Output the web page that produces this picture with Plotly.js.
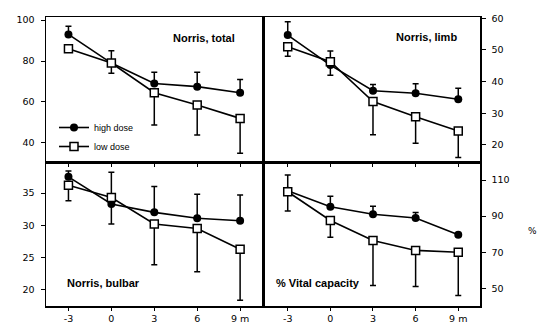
<!DOCTYPE html>
<html><head><meta charset="utf-8">
<script src="https://cdn.plot.ly/plotly-3.0.1.min.js"></script>
<style>html,body{margin:0;padding:0;background:#fff}#c{width:537px;height:331px}</style>
</head><body><div id="c"></div>
<script>
// months
const months = [-3, 0, 3, 6, 9];
const tickText = ['-3', '0', '3', '6', '9 m'];
const seriesNames = ['high dose', 'low dose'];

// Norris, total
const totalHigh = [93, 79, 69, 67.5, 64.5];
const totalHighErr = [4, 6, 5.5, 7, 6.5];
const totalLow = [86, 79, 64.5, 58.5, 52];
const totalLowErr = [0, 5, 15.7, 14.6, 17];

// Norris, limb
const limbHigh = [54.7, 45.2, 37.1, 36.3, 34.4];
const limbHighErr = [4.2, 4.5, 2, 3, 3.5];
const limbLow = [51, 46.3, 33.7, 28.9, 24.4];
const limbLowErr = [3, 4.3, 10.5, 8.4, 8.4];

// Norris, bulbar
const bulbarHigh = [37.5, 33.3, 32.0, 31.1, 30.7];
const bulbarHighErr = [0.9, 4.9, 4.0, 3.7, 4.0];
const bulbarLow = [36.2, 34.3, 30.2, 29.5, 26.3];
const bulbarLowErr = [2.4, 4.1, 6.3, 6.7, 7.9];

// % Vital capacity
const vcHigh = [104, 95.2, 91, 89, 79.7];
const vcHighErr = [8.8, 5.8, 4.5, 3, 0];
const vcLow = [103.5, 87.6, 76.5, 71, 70];
const vcLowErr = [10.7, 9.3, 24.9, 20, 24];

const panelTitles = ['Norris, total', 'Norris, limb', 'Norris, bulbar', '% Vital capacity'];

const W = 537, H = 331;
const px = v => v / W, py = v => 1 - v / H;
const zeros = months.map(() => 0);

function hi(y, err, xa, ya, legend) {
  return {x: months, y: y, xaxis: xa, yaxis: ya, type: 'scatter', mode: 'lines+markers',
    name: seriesNames[0], showlegend: legend,
    line: {color: '#000', width: 1.6},
    marker: {symbol: 'circle', size: 8, color: '#000'},
    error_y: {type: 'data', symmetric: false, array: err, arrayminus: zeros, color: '#000', thickness: 1.5, width: 3}};
}
function lo(y, err, xa, ya, legend) {
  return {x: months, y: y, xaxis: xa, yaxis: ya, type: 'scatter', mode: 'lines+markers',
    name: seriesNames[1], showlegend: legend,
    line: {color: '#000', width: 1.6},
    marker: {symbol: 'square', size: 8, color: '#fff', line: {color: '#000', width: 1.5}},
    error_y: {type: 'data', symmetric: false, array: zeros, arrayminus: err, color: '#000', thickness: 1.5, width: 3}};
}

const data = [
  hi(totalHigh, totalHighErr, 'x', 'y', true), lo(totalLow, totalLowErr, 'x', 'y', true),
  hi(limbHigh, limbHighErr, 'x2', 'y2', false), lo(limbLow, limbLowErr, 'x2', 'y2', false),
  hi(bulbarHigh, bulbarHighErr, 'x3', 'y3', false), lo(bulbarLow, bulbarLowErr, 'x3', 'y3', false),
  hi(vcHigh, vcHighErr, 'x4', 'y4', false), lo(vcLow, vcLowErr, 'x4', 'y4', false)
];

const tickFont = {family: 'DejaVu Sans', size: 9.5, color: '#000'};
const L = [px(46), px(263)], R = [px(263), px(480)];
const T = [py(162), py(17)], B = [py(306), py(162)];

function xax(dom, range, anchor, labels) {
  return {domain: dom, range: range, anchor: anchor, showline: true, mirror: true, linecolor: '#000', linewidth: 1.5,
    showgrid: false, zeroline: false, ticks: 'outside', ticklen: 3, tickwidth: 1, tickcolor: '#000',
    tickvals: months, ticktext: tickText, showticklabels: labels, tickfont: tickFont, fixedrange: true};
}
function yax(dom, range, anchor, side, tickvals) {
  return {domain: dom, range: range, anchor: anchor, side: side, showline: true, mirror: true, linecolor: '#000', linewidth: 1.5,
    showgrid: false, zeroline: false, ticks: 'outside', ticklen: 4, tickwidth: 1, tickcolor: '#000',
    tickvals: tickvals, tickfont: tickFont, ticklabelstandoff: 4, fixedrange: true};
}

const annFont = {family: 'Liberation Sans', size: 11, color: '#000', weight: 'bold'};
const layout = {
  width: W, height: H, margin: {l: 0, r: 0, t: 0, b: 0},
  paper_bgcolor: '#fff', plot_bgcolor: '#fff',
  xaxis: xax(L, [-4.57, 10.6], 'y', false),
  yaxis: yax(T, [30.7, 101.5], 'x', 'left', [40, 60, 80, 100]),
  xaxis2: xax(R, [-4.74, 10.53], 'y2', false),
  yaxis2: yax(T, [14.6, 60.4], 'x2', 'right', [20, 30, 40, 50, 60]),
  xaxis3: xax(L, [-4.57, 10.6], 'y3', true),
  yaxis3: yax(B, [17.5, 39.8], 'x3', 'left', [20, 25, 30, 35]),
  xaxis4: xax(R, [-4.74, 10.53], 'y4', true),
  yaxis4: yax(B, [40.2, 120], 'x4', 'right', [50, 70, 90, 110]),
  showlegend: true,
  legend: {x: px(54), y: py(113), xanchor: 'left', yanchor: 'top', bgcolor: 'rgba(0,0,0,0)',
    font: {family: 'Liberation Sans', size: 9, color: '#000'}, tracegroupgap: 0, itemwidth: 30},
  annotations: [
    {text: panelTitles[0], xref: 'paper', yref: 'paper', x: px(237), y: py(38), xanchor: 'right', yanchor: 'middle', showarrow: false, font: annFont},
    {text: panelTitles[1], xref: 'paper', yref: 'paper', x: px(459), y: py(37), xanchor: 'right', yanchor: 'middle', showarrow: false, font: annFont},
    {text: panelTitles[2], xref: 'paper', yref: 'paper', x: px(65), y: py(283), xanchor: 'left', yanchor: 'middle', showarrow: false, font: annFont},
    {text: panelTitles[3], xref: 'paper', yref: 'paper', x: px(274), y: py(283), xanchor: 'left', yanchor: 'middle', showarrow: false, font: annFont},
    {text: '%', xref: 'paper', yref: 'paper', x: px(532), y: py(231), xanchor: 'center', yanchor: 'middle', showarrow: false, font: {family: 'DejaVu Sans', size: 9, color: '#000'}}
  ]
};
Plotly.newPlot('c', data, layout, {staticPlot: true, displayModeBar: false});
</script></body></html>
